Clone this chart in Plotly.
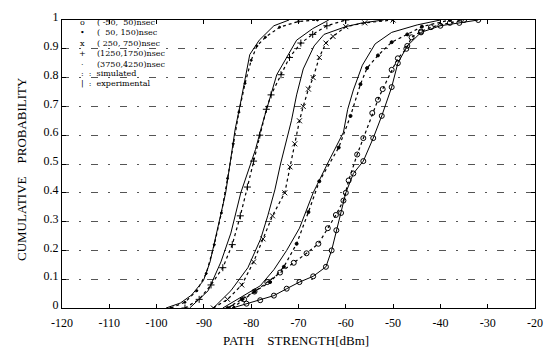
import plotly.graph_objects as go

# ---------------- data ----------------
# window (3750,4250) nsec  -- "·"
a_exp_x = [-98, -95, -92.6, -90.1, -88.7, -87.6, -86.9, -85.4, -84.3, -83.4, -82.4, -81.3, -80.3, -78.3, -75.2, -72]
a_exp_y = [0, 0.017, 0.045, 0.095, 0.16, 0.24, 0.30, 0.40, 0.52, 0.62, 0.70, 0.80, 0.88, 0.93, 0.98, 1.0]
a_sim_x = [-97, -94, -91.5, -89.5, -87.8, -86.3, -85, -83.8, -82.6, -81.3, -80, -78.8, -77, -74, -70, -66]
a_sim_y = [0, 0.02, 0.06, 0.12, 0.22, 0.33, 0.45, 0.57, 0.68, 0.78, 0.86, 0.91, 0.94, 0.975, 0.995, 1.0]

# window (1250,1750) nsec  -- "+"
b_exp_x = [-93, -89.1, -86.4, -84.3, -82.2, -80.6, -79.1, -77.8, -76.6, -74.6, -72.5, -70.4, -67, -63.6]
b_exp_y = [0, 0.06, 0.16, 0.26, 0.40, 0.48, 0.55, 0.63, 0.70, 0.81, 0.87, 0.93, 0.97, 1.0]
b_sim_x = [-94, -91, -88.5, -86, -84, -82.3, -80.8, -79.5, -78.2, -76.8, -75.8, -73.7, -71.9, -69.5, -67, -64, -60]
b_sim_y = [0, 0.03, 0.08, 0.14, 0.22, 0.32, 0.42, 0.51, 0.60, 0.69, 0.74, 0.81, 0.87, 0.92, 0.95, 0.98, 1.0]

# window (250,750) nsec  -- "x"
c_exp_x = [-88, -84.3, -80.7, -78, -76.5, -75, -73.8, -72.5, -71.5, -70.4, -69, -66.7, -64.6, -60, -56.5, -52]
c_exp_y = [0, 0.06, 0.14, 0.24, 0.32, 0.41, 0.50, 0.58, 0.65, 0.74, 0.83, 0.91, 0.95, 0.977, 0.99, 1.0]
c_sim_x = [-88, -85, -82, -79.5, -77.5, -75.5, -72.9, -71.8, -70.8, -69.8, -69, -67.9, -66.9, -65.6, -64.2, -62.7, -60, -56, -50]
c_sim_y = [0, 0.03, 0.08, 0.16, 0.24, 0.32, 0.40, 0.49, 0.57, 0.65, 0.70, 0.76, 0.80, 0.87, 0.92, 0.943, 0.977, 0.99, 1.0]

# window (50,150) nsec  -- "•"
d_exp_x = [-86, -83, -80.2, -78.1, -75.2, -72.5, -69.8, -67.7, -66.9, -63.6, -60.5, -59.6, -58.4, -56.5, -53.8, -50.3, -44.9, -40]
d_exp_y = [0, 0.03, 0.057, 0.077, 0.133, 0.2, 0.277, 0.367, 0.40, 0.51, 0.61, 0.69, 0.757, 0.843, 0.917, 0.957, 0.983, 1.0]
d_sim_x = [-85, -82, -79.3, -76, -73.1, -70.4, -67.9, -65.6, -61.5, -59.0, -56.9, -55.5, -53.2, -50.3, -47, -43.9, -38]
d_sim_y = [0, 0.03, 0.057, 0.09, 0.143, 0.223, 0.333, 0.44, 0.557, 0.667, 0.777, 0.833, 0.877, 0.923, 0.95, 0.977, 1.0]

# window (-50,50) nsec  -- "o"
e_exp_x = [-84, -81, -78.1, -75.2, -72.5, -69.8, -66.9, -64.2, -63, -62, -61, -60, -58.4, -56.3, -54.2, -52.4, -50.3, -49.0, -47.0, -44.1, -40, -36, -32]
e_exp_y = [0, 0.015, 0.027, 0.043, 0.067, 0.09, 0.11, 0.143, 0.2, 0.27, 0.33, 0.40, 0.467, 0.51, 0.59, 0.667, 0.767, 0.85, 0.91, 0.957, 0.98, 0.99, 1.0]
e_sim_x = [-84, -81.5, -79.3, -76.6, -73.9, -71.0, -68.3, -65.8, -63.8, -62.1, -60.5, -59.4, -57.6, -56.3, -54.4, -53.2, -52.2, -50.3, -49.0, -47.2, -46.1, -44.1, -42, -38, -35]
e_sim_y = [0, 0.03, 0.057, 0.09, 0.123, 0.157, 0.19, 0.223, 0.277, 0.323, 0.373, 0.443, 0.533, 0.59, 0.677, 0.723, 0.76, 0.827, 0.867, 0.90, 0.94, 0.96, 0.975, 0.99, 1.0]

x_ticks = [-120, -110, -100, -90, -80, -70, -60, -50, -40, -30, -20]
y_ticks = [0, 0.1, 0.2, 0.3, 0.4, 0.5, 0.6, 0.7, 0.8, 0.9, 1]
y_ticktext = ["0", "0.1", "0.2", "0.3", "0.4", "0.5", "0.6", "0.7", "0.8", "0.9", "1"]

legend_symbols = ["o", "•", "x", "+", "·"]
legend_labels = ["( -50,  50)nsec", "(  50, 150)nsec", "( 250, 750)nsec",
                 "(1250,1750)nsec", "(3750,4250)nsec"]
legend_styles = [":  :  simulated", "|  :  experimental"]

# ---------------- figure ----------------
FONT = "Liberation Serif, Times New Roman, serif"
LFONT = "DejaVu Serif, serif"
fig = go.Figure()

series = [
    (a_exp_x, a_exp_y, a_sim_x, a_sim_y, "circle", 2, False),
    (b_exp_x, b_exp_y, b_sim_x, b_sim_y, "cross-thin", 5, False),
    (c_exp_x, c_exp_y, c_sim_x, c_sim_y, "x-thin", 5, False),
    (d_exp_x, d_exp_y, d_sim_x, d_sim_y, "circle", 3, False),
    (e_exp_x, e_exp_y, e_sim_x, e_sim_y, "circle-open", 5, True),
]

for ex, ey, sx, sy, sym, size, exp_markers in series:
    fig.add_trace(go.Scatter(
        x=ex, y=ey, mode="lines+markers" if exp_markers else "lines",
        line=dict(color="black", width=1),
        marker=dict(symbol=sym, size=size, color="black", line=dict(color="black", width=1)),
        showlegend=False, hoverinfo="skip"))
    fig.add_trace(go.Scatter(
        x=sx, y=sy, mode="lines+markers",
        line=dict(color="black", width=1.2, dash="dot"),
        marker=dict(symbol=sym, size=size, color="black", line=dict(color="black", width=1)),
        showlegend=False, hoverinfo="skip"))

NB = "\u00a0"
left_px, plot_w, top_px, plot_h = 62, 481, 11, 297
def px2paper(px, py):
    return (px - left_px) / plot_w, 1 - (py - top_px) / plot_h

ann = []
# legend block, written as text like in the original figure
xs, ys = px2paper(83, 8)
ann.append(dict(x=xs, y=ys, xref="paper", yref="paper", showarrow=False,
                text="<br>".join(legend_symbols), align="center",
                xanchor="center", yanchor="top", borderpad=0,
                font=dict(family=LFONT, size=8, color="black")))
xt, yt = px2paper(97, 8)
ann.append(dict(x=xt, y=yt, xref="paper", yref="paper", showarrow=False,
                text="<br>".join(l.replace(" ", NB) for l in legend_labels), align="left",
                xanchor="left", yanchor="top", borderpad=0,
                font=dict(family=LFONT, size=8, color="black")))
xt, yt = px2paper(80, 61)
ann.append(dict(x=xt, y=yt, xref="paper", yref="paper", showarrow=False,
                text="<br>".join(l.replace(" ", NB) for l in legend_styles), align="left",
                xanchor="left", yanchor="top", borderpad=0,
                font=dict(family=LFONT, size=8, color="black")))

# axis titles
ann.append(dict(x=px2paper(300, 0)[0], y=px2paper(0, 341)[1], xref="paper", yref="paper",
                text="PATH" + NB * 4 + "STRENGTH[dBm]", showarrow=False,
                xanchor="center", yanchor="middle", font=dict(family=FONT, size=13, color="black")))
ann.append(dict(x=px2paper(21, 0)[0], y=px2paper(0, 165)[1], xref="paper", yref="paper",
                text="CUMULATIVE" + NB * 4 + "PROBABILITY", showarrow=False, textangle=-90,
                xanchor="center", yanchor="middle", font=dict(family=FONT, size=13, color="black")))

fig.update_layout(
    width=553, height=355,
    margin=dict(l=62, r=10, t=11, b=47),
    paper_bgcolor="white", plot_bgcolor="white",
    annotations=ann,
    showlegend=False,
)
fig.update_xaxes(
    range=[-120, -20], tickvals=x_ticks, ticktext=[str(v) for v in x_ticks],
    showgrid=False, zeroline=False, showline=True, linecolor="black", linewidth=1.2,
    mirror="ticks", ticks="inside", ticklen=4, tickcolor="black",
    ticklabelstandoff=3,
    tickfont=dict(family=FONT, size=12, color="black"),
)
fig.update_yaxes(
    range=[0, 1], tickvals=y_ticks, ticktext=y_ticktext,
    showgrid=True, gridcolor="#555", gridwidth=0.8, griddash="7px,10px,2px,10px",
    zeroline=False, showline=True, linecolor="black", linewidth=1.2,
    mirror="ticks", ticks="inside", ticklen=4, tickcolor="black",
    ticklabelshift=-3,
    tickfont=dict(family=FONT, size=12, color="black"),
)

fig.write_html("out.html", config={"displayModeBar": False},
               post_script="document.body.style.margin='0px';")
